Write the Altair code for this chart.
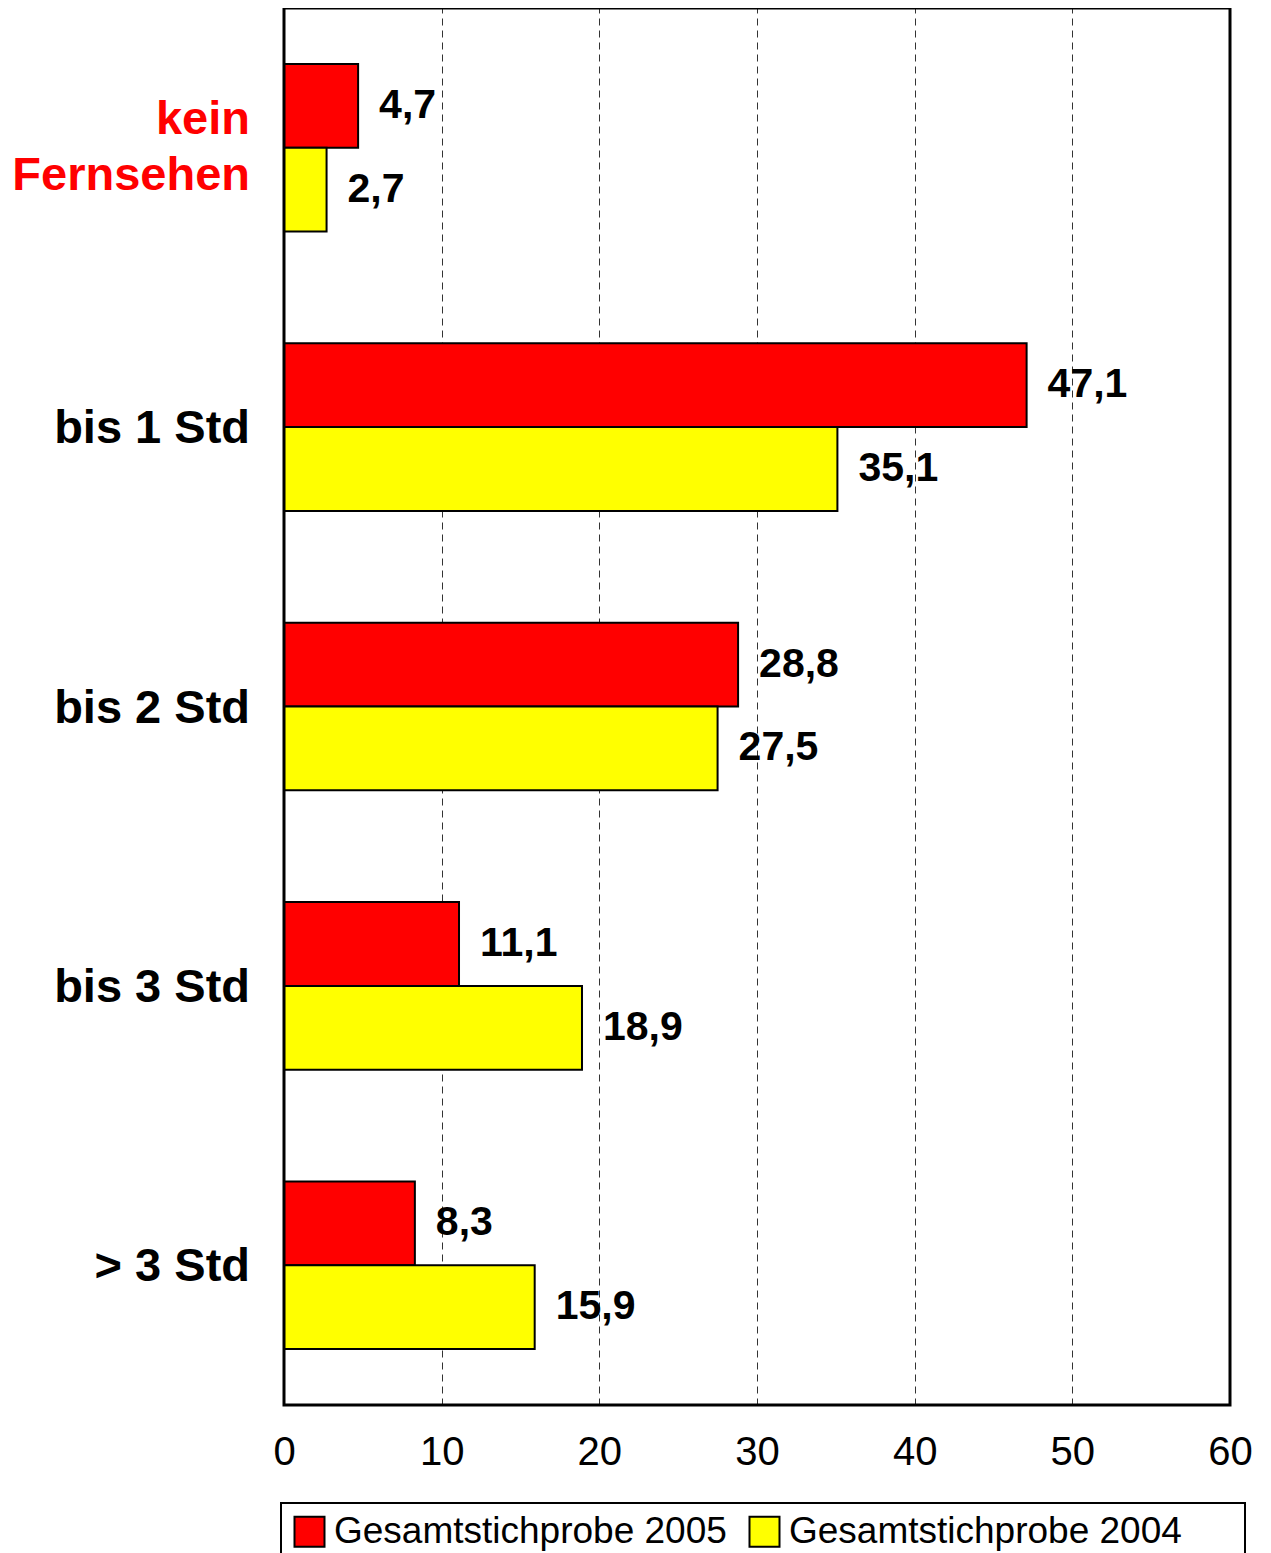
import altair as alt
import pandas as pd

cats = ["kein\nFernsehen", "bis 1 Std", "bis 2 Std", "bis 3 Std", "> 3 Std"]
series = ["Gesamtstichprobe 2005", "Gesamtstichprobe 2004"]
v2005 = [4.7, 47.1, 28.8, 11.1, 8.3]
v2004 = [2.7, 35.1, 27.5, 18.9, 15.9]
colors = ["#FF0000", "#FFFF00"]

rows = []
for c, a, b in zip(cats, v2005, v2004):
    rows.append({"cat": c, "series": series[0], "value": a})
    rows.append({"cat": c, "series": series[1], "value": b})
df = pd.DataFrame(rows)
cat_df = pd.DataFrame({"cat": cats})

W, H = 946, 1397
FONT = "Liberation Sans"

y_enc = alt.Y("cat:N", sort=cats, axis=None,
              scale=alt.Scale(paddingInner=0.4, paddingOuter=0.2))
x_enc = alt.X("value:Q", scale=alt.Scale(domain=[0, 60], nice=False),
              axis=alt.Axis(values=[0, 10, 20, 30, 40, 50, 60], title=None,
                            grid=True, gridDash=[7, 5], gridColor="#333333",
                            gridWidth=1, domain=False, tickSize=0,
                            labelFont=FONT, labelFontSize=40, labelPadding=27,
                            labelColor="black", labelFlush=False))

bars = alt.Chart(df).mark_bar(stroke="black", strokeWidth=2).encode(
    x=x_enc,
    y=y_enc,
    yOffset=alt.YOffset("series:N", sort=series),
    color=alt.Color("series:N", sort=series,
                    scale=alt.Scale(domain=series, range=colors),
                    legend=alt.Legend(title=None, orient="none", legendX=-3,
                                      legendY=1495, direction="horizontal",
                                      symbolType="square", symbolSize=900,
                                      symbolStrokeColor="black",
                                      symbolStrokeWidth=2,
                                      labelFont=FONT, labelFontSize=37,
                                      labelColor="black", labelOffset=6,
                                      labelLimit=0,
                                      columnPadding=18, padding=10)),
)

vals = alt.Chart(df).transform_calculate(
    lab="replace(format(datum.value, '.1f'), '.', ',')"
).mark_text(align="left", baseline="middle", dx=21, font=FONT,
            fontSize=41, fontWeight="bold", color="black").encode(
    x="value:Q",
    y=alt.Y("cat:N", sort=cats),
    yOffset=alt.YOffset("series:N", sort=series),
    text="lab:N",
)

labels_black = alt.Chart(cat_df).transform_filter(
    "indexof(datum.cat, '\\n') < 0"
).mark_text(
    align="right", baseline="middle", font=FONT, fontSize=47,
    fontWeight="bold", color="black", dy=2
).encode(
    x=alt.value(-34),
    y=alt.Y("cat:N", sort=cats),
    text="cat:N",
)

labels_red = alt.Chart(cat_df).transform_filter(
    "indexof(datum.cat, '\\n') >= 0"
).mark_text(
    align="right", baseline="middle", font=FONT, fontSize=47,
    fontWeight="bold", color="#FF0000", lineBreak="\n", lineHeight=56, dy=-28
).encode(
    x=alt.value(-34),
    y=alt.Y("cat:N", sort=cats),
    text="cat:N",
)

frame = alt.Chart(pd.DataFrame({"f": [0]})).mark_rect(
    fill=None, stroke="black", strokeWidth=3
).encode(
    x=alt.value(0), x2=alt.value(W), y=alt.value(0), y2=alt.value(H)
)

legend_box = alt.Chart(pd.DataFrame({"f": [0]})).mark_rect(
    fill=None, stroke="black", strokeWidth=2
).encode(
    x=alt.value(-3), x2=alt.value(961), y=alt.value(1495), y2=alt.value(1570)
)

chart = alt.layer(bars, vals, labels_black, labels_red, frame, legend_box).properties(
    width=W, height=H,
    autosize=alt.AutoSizeParams(type="none"),
    padding={"left": 276, "top": 0, "right": 33, "bottom": 160},
).configure_view(
    stroke=None, fill="white"
).configure(background="white")

chart.save("out.html", embed_options={"renderer": "svg", "actions": False})
